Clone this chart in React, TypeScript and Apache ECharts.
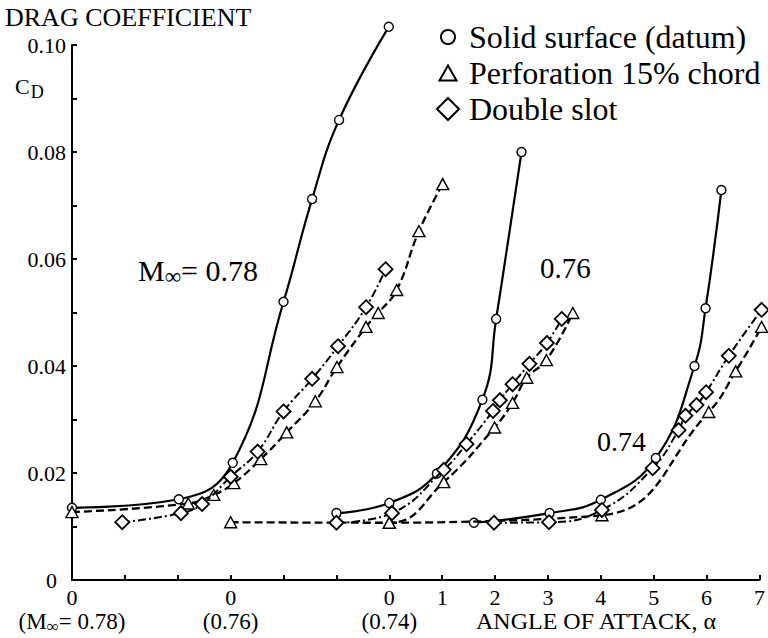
import React, { useEffect, useRef } from 'react';
import * as echarts from 'echarts';

const FONT = "'Liberation Serif', 'DejaVu Serif', serif";

// Each free-stream Mach number has its own zero angle of attack on the shared horizontal axis
const MACH_NUMBERS = ['0.78', '0.76', '0.74'];
const ALPHA_ORIGIN = [0, 3, 6];

// Tick labels of the shared axis (positions 0 … 13) and of the drag axis (0 … 0.10 step 0.01)
const X_TICK_DIGITS = ['0', '', '', '0', '', '', '0', '1', '2', '3', '4', '5', '6', '7'];
const Y_TICK_LABELS = ['0', '', '0.02', '', '0.04', '', '0.06', '', '0.08', '', '0.10'];

const SERIES_NAMES = ['Solid surface (datum)', 'Perforation 15% chord', 'Double slot'];

// M = 0.78
const solid78Alpha = [0, 2.02, 3.04, 4.0, 4.54, 5.05, 5.99];
const solid78Cd = [0.0135, 0.0151, 0.0219, 0.052, 0.0712, 0.086, 0.1034];
const perf78Alpha = [0, 2.2, 2.68, 3.06, 3.57, 4.06, 4.6, 5.01, 5.56, 5.79, 6.14, 6.56, 7.01];
const perf78Cd = [0.0127, 0.0143, 0.0159, 0.0181, 0.0226, 0.0276, 0.0334, 0.0398, 0.0473, 0.0499, 0.0542, 0.0652, 0.074];
const slot78Alpha = [0.95, 2.06, 2.46, 3.0, 3.51, 4.0, 4.54, 5.03, 5.56, 5.93];
const slot78Cd = [0.0108, 0.0125, 0.0142, 0.0193, 0.024, 0.0315, 0.0376, 0.0437, 0.051, 0.0581];

// M = 0.76
const solid76Alpha = [2.0, 3.0, 3.9, 4.76, 5.02, 5.5];
const solid76Cd = [0.0125, 0.0144, 0.0199, 0.0337, 0.0488, 0.08];
const perf76Alpha = [0, 3.0, 4.03, 4.99, 5.33, 5.6, 5.97, 6.47];
const perf76Cd = [0.0108, 0.0107, 0.0183, 0.0285, 0.0331, 0.0378, 0.0411, 0.0499];
const slot76Alpha = [2.0, 3.05, 4.03, 4.46, 4.96, 5.09, 5.33, 5.65, 5.98, 6.26];
const slot76Cd = [0.0107, 0.0125, 0.0206, 0.0254, 0.0316, 0.0336, 0.0366, 0.0404, 0.0443, 0.0488];

// M = 0.74
const solid74Alpha = [1.6, 3.03, 4.0, 5.04, 5.77, 5.98, 6.28];
const solid74Cd = [0.0107, 0.0125, 0.015, 0.0228, 0.04, 0.0508, 0.0729];
const perf74Alpha = [0, 4.02, 6.04, 6.55, 7.04];
const perf74Cd = [0.0107, 0.0121, 0.0314, 0.039, 0.0473];
const slot74Alpha = [1.98, 3.02, 4.02, 4.98, 5.47, 5.6, 5.81, 5.99, 6.42, 7.04];
const slot74Cd = [0.0107, 0.0108, 0.0131, 0.0209, 0.028, 0.0307, 0.0327, 0.0351, 0.0419, 0.0505];

const CURVES = [
  { mach: 0, kind: 0, alpha: solid78Alpha, cd: solid78Cd },
  { mach: 0, kind: 1, alpha: perf78Alpha, cd: perf78Cd },
  { mach: 0, kind: 2, alpha: slot78Alpha, cd: slot78Cd },
  { mach: 1, kind: 0, alpha: solid76Alpha, cd: solid76Cd },
  { mach: 1, kind: 1, alpha: perf76Alpha, cd: perf76Cd },
  { mach: 1, kind: 2, alpha: slot76Alpha, cd: slot76Cd },
  { mach: 2, kind: 0, alpha: solid74Alpha, cd: solid74Cd },
  { mach: 2, kind: 1, alpha: perf74Alpha, cd: perf74Cd },
  { mach: 2, kind: 2, alpha: slot74Alpha, cd: slot74Cd },
];

// Marker and line appearance per configuration
const KIND_STYLE = [
  { symbol: 'circle', symbolSize: 9, lineType: 'solid' as any, lineWidth: 2.2, border: 1.4 },
  { symbol: 'triangle', symbolSize: [12, 11], lineType: [8, 4], lineWidth: 2.3, border: 1.4 },
  { symbol: 'diamond', symbolSize: 14, lineType: [8, 3, 2, 3], lineWidth: 2, border: 1.8 },
];

const LEGEND_ICONS = [
  { icon: 'circle', size: [14, 14], top: 21 },
  { icon: 'triangle', size: [17, 15], top: 57 },
  { icon: 'diamond', size: [22, 22], top: 93 },
];

const AXIS_COLOR = '#000';

// Serif text run used for every label of the figure
const run = (size: number, lineHeight = size, extra: Record<string, unknown> = {}) => ({
  fontFamily: FONT,
  fontSize: size,
  lineHeight,
  color: '#000',
  fill: '#000',
  ...extra,
});

function buildOption(): echarts.EChartsOption {
  const series = CURVES.map((c) => {
    const st = KIND_STYLE[c.kind];
    return {
      type: 'line' as const,
      name: SERIES_NAMES[c.kind],
      data: c.alpha.map((a, i) => [a + ALPHA_ORIGIN[c.mach], c.cd[i]]),
      symbol: st.symbol,
      symbolSize: st.symbolSize as any,
      showAllSymbol: true,
      smooth: 0.45,
      clip: false,
      lineStyle: { color: '#000', width: st.lineWidth, type: st.lineType },
      itemStyle: { color: '#fff', borderColor: '#000', borderWidth: st.border },
      emphasis: { disabled: true },
      z: 3 + c.kind,
    };
  });

  const legend = LEGEND_ICONS.map((l, k) => ({
    data: [{ name: SERIES_NAMES[k], icon: l.icon }],
    left: 447 - l.size[0] / 2,
    top: l.top,
    padding: 0,
    itemWidth: l.size[0],
    itemHeight: l.size[1],
    selectedMode: false,
    itemStyle: { color: '#fff', borderColor: '#000', borderWidth: 2 },
    formatter: (name: string) => `{t|${name}}`,
    textStyle: {
      fontFamily: FONT,
      fontSize: 32,
      color: '#000',
      lineHeight: 32,
      padding: [0, 0, 0, 468 - (447 + l.size[0] / 2) - 5],
      rich: { t: run(32, 32) as any },
    },
  }));

  const subRich = {
    n: run(22, 24),
    p: run(23, 24),
    s: run(17, 14, { padding: [10, 0, 0, 0] }),
  };

  const bigRich = {
    p: run(30, 30),
    s: run(23, 16, { padding: [13, 0, 0, 0] }),
  };

  const plain = (text: string, size: number, x: number, y: number) => ({
    type: 'text' as const,
    x,
    y,
    style: { text: `{a|${text}}`, verticalAlign: 'middle', rich: { a: run(size) } } as any,
  });

  return {
    animation: false,
    backgroundColor: '#fff',
    textStyle: { fontFamily: FONT },
    grid: { left: 72, right: 8, top: 45, bottom: 58, containLabel: false },
    xAxis: {
      type: 'value',
      min: 0,
      max: 13,
      interval: 1,
      axisLine: { show: true, onZero: false, lineStyle: { color: AXIS_COLOR, width: 2 } },
      axisTick: { show: true, inside: true, length: 5, lineStyle: { color: AXIS_COLOR, width: 2 } },
      splitLine: { show: false },
      axisLabel: {
        margin: 5,
        color: '#000',
        fontFamily: FONT,
        fontSize: 22,
        rich: subRich as any,
        formatter: (v: number) => {
          const i = Math.round(v);
          const d = X_TICK_DIGITS[i] ?? '';
          const m = ALPHA_ORIGIN.indexOf(i);
          if (m < 0) return d ? `{n|${d}}` : '';
          const tail =
            m === 0
              ? `{p|(M}{s|∞}{p|= ${MACH_NUMBERS[0]})}`
              : `{p|(${MACH_NUMBERS[m]})}`;
          return `{n|${d}}\n${tail}`;
        },
      },
    },
    yAxis: {
      type: 'value',
      min: 0,
      max: 0.1,
      interval: 0.01,
      axisLine: { show: true, onZero: false, lineStyle: { color: AXIS_COLOR, width: 2 } },
      axisTick: { show: true, inside: true, length: 5, lineStyle: { color: AXIS_COLOR, width: 2 } },
      splitLine: { show: false },
      axisLabel: {
        margin: 6,
        color: '#000',
        fontFamily: FONT,
        fontSize: 22,
        rich: { n: run(22, 22) as any, z: run(22, 22, { padding: [0, 9, 0, 0] }) as any },
        formatter: (v: number) => {
          const t = Y_TICK_LABELS[Math.round(v * 100)] ?? '';
          if (!t) return '';
          return v === 0 ? `{z|${t}}` : `{n|${t}}`;
        },
      },
    },
    legend,
    series,
    graphic: [
      plain('DRAG COEFFICIENT', 26, 5, 17),
      {
        type: 'text',
        x: 15,
        y: 86,
        style: {
          text: '{c|C}{d|D}',
          verticalAlign: 'middle',
          rich: {
            c: run(22, 22),
            d: run(18, 14, { padding: [12, 0, 0, 1] }),
          },
        } as any,
      },
      plain('ANGLE OF ATTACK, α', 24, 476, 621),
      {
        type: 'text',
        x: 138,
        y: 270,
        style: {
          text: `{p|M}{s|∞}{p|= ${MACH_NUMBERS[0]}}`,
          verticalAlign: 'middle',
          rich: bigRich as any,
        } as any,
      },
      plain(MACH_NUMBERS[1], 29, 540, 268),
      plain(MACH_NUMBERS[2], 28, 597, 441),
    ],
  };
}

export default function App() {
  const ref = useRef<HTMLDivElement>(null);

  useEffect(() => {
    if (!ref.current) return;
    const chart = echarts.init(ref.current, undefined, { renderer: 'svg' });
    chart.setOption(buildOption());
    return () => chart.dispose();
  }, []);

  return (
    <div
      ref={ref}
      style={{ position: 'absolute', left: 0, top: 0, width: 768, height: 638, background: '#fff' }}
    />
  );
}
